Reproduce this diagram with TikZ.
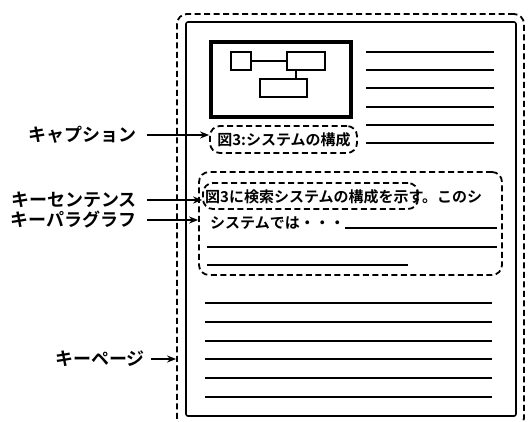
\documentclass[tikz,border=0pt]{standalone}
\usepackage{fontspec}
\usepackage{tikz}
\usepackage{xcolor}
\usetikzlibrary{shapes,arrows.meta,positioning,calc}
\newfontfamily\jp{Noto Sans CJK JP Bold}

\begin{document}
\begin{tikzpicture}[x=1pt, y=-1pt,
		dashbox/.style={draw, line width=1.8pt, dash pattern=on 6pt off 3.5pt, rounded corners=10pt, inner sep=0pt},
		plainbox/.style={draw, line width=1.6pt, rectangle, inner sep=0pt},
		tag/.style={font=\jp\fontsize{18}{18}\selectfont, inner sep=0pt, anchor=east},
		body/.style={font=\jp\fontsize{15}{15}\selectfont, inner sep=0pt, anchor=west},
		pointer/.style={-{Stealth[length=9pt,width=7pt]}, line width=1.6pt, shorten <=10pt},
		rule/.style={line width=1.7pt}]
	\useasboundingbox (0,0) rectangle (528,421);
	
	% page
	\node[dashbox, minimum width=347pt, minimum height=414pt] (keypage) at (350.5,221) {};
	\node[plainbox, rounded corners=2pt, minimum width=330pt, minimum height=394pt] (page) at (351,219) {};
	
	% figure
	\node[plainbox, line width=3.5pt, minimum width=140pt, minimum height=75pt] (fig) at (281,79.5) {};
	\node[plainbox, minimum width=20pt, minimum height=18pt] (boxa) at (241,61) {};
	\node[plainbox, minimum width=38pt, minimum height=18pt] (boxb) at (306,61) {};
	\node[plainbox, minimum width=47pt, minimum height=18pt] (boxc) at (283.5,88) {};
	\draw[rule] (boxa) -- (boxb);
	\draw[rule] ([xshift=-10pt]boxb.south) -- ([xshift=-10pt]boxb.south |- boxc.north);
	
	\foreach \y in {52,70,88,107,125,143}
		\draw[rule] (366,\y) -- (494,\y);
	
	% caption
	\node[dashbox, minimum width=147pt, minimum height=27pt] (caption) at (283.5,139.5) {};
	\node[body, anchor=center] (captext) at (284,140) {図3:システムの構成};
	
	% paragraph
	\node[dashbox, minimum width=303pt, minimum height=103pt] (para) at (350.5,223.5) {};
	\node[dashbox, minimum width=215pt, minimum height=26pt] (sent) at (310.5,196) {};
	\node[body] (line1) at (205,197) {図3に検索システムの構成を示す。このシ};
	\node[body] (line2) at (210,223) {システムでは・・・};
	\draw[rule] (line2.east |- 0,228) -- (497,228);
	\draw[rule] (207,247) -- (497,247);
	\draw[rule] (207,265) -- (408,265);
	
	\foreach \y in {303,322,341,359,378,397}
		\draw[rule] (205,\y) -- (492,\y);
	
	% labels
	\node[tag] (lcap) at (137,135) {キャプション};
	\node[tag] (lsent) at (137,200) {キーセンテンス};
	\node[tag] (lpara) at (137,220) {キーパラグラフ};
	\node[tag] (lpage) at (145,359) {キーページ};
	
	\draw[pointer] (lcap.east) -- (lcap.east -| caption.west);
	\draw[pointer] (lsent.east) -- (lsent.east -| sent.west);
	\draw[pointer] (lpara.east) -- (lpara.east -| para.west);
	\draw[pointer, shorten <=6pt] (lpage.east) -- (lpage.east -| keypage.west);
\end{tikzpicture}
\end{document}
